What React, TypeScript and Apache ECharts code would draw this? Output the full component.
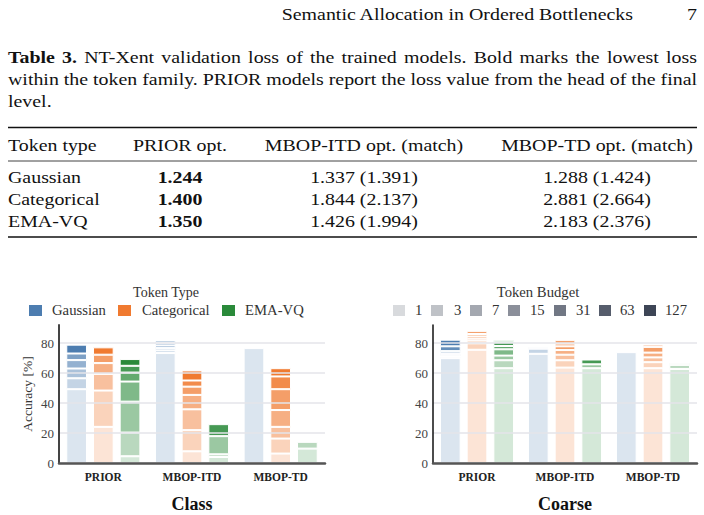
import React, { useEffect, useRef } from "react";
import * as echarts from "echarts";

// ---- data -------------------------------------------------------------
const models = ["PRIOR", "MBOP-ITD", "MBOP-TD"];
const tokenTypes = ["Gaussian", "Categorical", "EMA-VQ"];
const tokenBudgets = ["1", "3", "7", "15", "31", "63", "127"];

// Cumulative accuracy [%] reached with 1, 3, 7, 15, 31, 63, 127 tokens.
// One row per model (PRIOR, MBOP-ITD, MBOP-TD).
const classGaussian = [
  [49.2, 56.5, 63.0, 68.6, 73.0, 73.0, 78.9],
  [73.3, 75.1, 76.6, 78.4, 80.0, 81.6, 81.6],
  [76.6, 76.6, 76.6, 76.6, 76.6, 76.6, 76.6],
];
const classCategorical = [
  [24.1, 48.3, 59.4, 66.6, 72.2, 72.2, 77.1],
  [7.8, 21.9, 35.8, 45.4, 50.9, 55.0, 61.7],
  [6.3, 16.3, 24.1, 35.3, 49.2, 57.7, 63.2],
];
const classEmaVq = [
  [4.5, 20.3, 40.9, 54.3, 60.3, 64.8, 69.3],
  [4.0, 5.8, 17.9, 17.9, 17.9, 25.9, 25.9],
  [9.6, 14.1, 14.1, 14.1, 14.1, 14.1, 14.1],
];
const coarseGaussian = [
  [69.9, 71.0, 72.1, 73.1, 74.6, 77.8, 82.2],
  [72.8, 76.2, 77.1, 77.1, 77.1, 77.1, 77.1],
  [73.9, 73.9, 73.9, 73.9, 73.9, 73.9, 73.9],
];
const coarseCategorical = [
  [75.5, 79.8, 81.6, 82.9, 84.4, 86.0, 87.8],
  [63.6, 68.5, 72.2, 75.3, 77.8, 79.6, 81.8],
  [63.2, 67.2, 70.4, 73.6, 77.4, 78.9, 78.9],
];
const coarseEmaVq = [
  [63.2, 68.5, 71.6, 75.8, 78.0, 80.5, 81.8],
  [63.2, 63.2, 65.8, 65.8, 65.8, 69.0, 69.0],
  [62.7, 65.4, 66.6, 66.6, 66.6, 66.6, 66.6],
];

const tableHeader = ["Token type", "PRIOR opt.", "MBOP-ITD opt. (match)", "MBOP-TD opt. (match)"];
const priorLoss = ["1.244", "1.400", "1.350"];
const itdLoss = ["1.337 (1.391)", "1.844 (2.137)", "1.426 (1.994)"];
const tdLoss = ["1.288 (1.424)", "2.881 (2.664)", "2.183 (2.376)"];

// ---- styling helpers --------------------------------------------------
const SERIF = "'Liberation Serif', 'DejaVu Serif', serif";
const familyColors = ["#4d7db0", "#f07a30", "#2a8a3a"];
const budgetBase = "#3d4556";
const levelAlpha = [0.2, 0.33, 0.47, 0.6, 0.73, 0.87, 1.0];
// body text of the page is set a little wider than the font's natural width
const PAGE_SIZE = 17;
const PAGE_SX = 1.17;

function tint(hex: string, a: number): string {
  const n = parseInt(hex.slice(1), 16);
  const ch = [(n >> 16) & 255, (n >> 8) & 255, n & 255].map((c) =>
    Math.round(255 - (255 - c) * a)
  );
  return "rgb(" + ch.join(",") + ")";
}

let measureCtx: CanvasRenderingContext2D | null = null;
function measure(text: string, font: string): number {
  if (!measureCtx) measureCtx = document.createElement("canvas").getContext("2d");
  measureCtx!.font = font;
  return measureCtx!.measureText(text).width;
}

type Word = { t: string; bold?: boolean };

function txt(text: string, x: number, y: number, size: number, opts: any = {}) {
  const font = (opts.bold ? "bold " : "") + size + "px " + SERIF;
  const align = opts.align || "left";
  return {
    type: "text",
    silent: true,
    x,
    y,
    scaleX: opts.sx || 1,
    style: {
      text,
      x: 0,
      y: 0,
      font,
      fill: opts.fill || "#111",
      align,
      verticalAlign: "middle",
      textAlign: align,
      textVerticalAlign: "middle",
    },
  };
}

// Lays out one line of words between x0 and x1, stretching the gaps when justified.
function justifiedLine(words: Word[], x0: number, x1: number, y: number, justify: boolean) {
  const fonts = words.map((w) => (w.bold ? "bold " : "") + PAGE_SIZE + "px " + SERIF);
  const widths = words.map((w, i) => measure(w.t, fonts[i]) * PAGE_SX);
  const total = widths.reduce((a, b) => a + b, 0);
  const space =
    justify && words.length > 1 ? (x1 - x0 - total) / (words.length - 1) : PAGE_SIZE * 0.3;
  let x = x0;
  return words.map((w, i) => {
    const el = txt(w.t, x, y, PAGE_SIZE, { bold: w.bold, sx: PAGE_SX });
    x += widths[i] + space;
    return el;
  });
}

function words(s: string, bold = false): Word[] {
  return s.split(" ").map((t) => ({ t, bold }));
}

function rule(y: number, w: number) {
  return {
    type: "line",
    silent: true,
    shape: { x1: 8, y1: y, x2: 697, y2: y },
    style: { stroke: "#111", lineWidth: w },
  };
}

function stackSeries(chart: number, families: number[][][]) {
  const out: any[] = [];
  families.forEach((fam, f) => {
    tokenBudgets.forEach((b, l) => {
      out.push({
        type: "bar",
        name: tokenTypes[f] + " " + b,
        xAxisIndex: chart,
        yAxisIndex: chart,
        stack: "c" + chart + "-" + f,
        barWidth: 20.7,
        barGap: "29%",
        silent: true,
        itemStyle: {
          color: tint(familyColors[f], levelAlpha[l]),
          borderColor: "#ffffff",
          borderWidth: 1,
        },
        data: models.map((_, m) => {
          const prev = l > 0 ? fam[m][l - 1] : 0;
          const d = Math.round((fam[m][l] - prev) * 100) / 100;
          return d > 0 ? d : null;
        }),
      });
    });
  });
  return out;
}

function xAxisFor(chart: number, title: string) {
  return {
    type: "category",
    gridIndex: chart,
    data: models,
    z: 5,
    axisLine: { show: true, lineStyle: { color: "#555", width: 2.5 } },
    axisTick: { show: false },
    axisLabel: { fontFamily: SERIF, fontWeight: "bold", fontSize: 11.5, color: "#222", margin: 8 },
    name: title,
    nameLocation: "middle",
    nameGap: 32,
    nameTextStyle: { fontFamily: SERIF, fontWeight: "bold", fontSize: 18, color: "#111" },
  };
}

function yAxisFor(chart: number, spine: string, withName: boolean) {
  return {
    type: "value",
    gridIndex: chart,
    min: 0,
    max: 92,
    interval: 20,
    z: 5,
    axisLine: { show: true, lineStyle: { color: spine, width: chart === 0 ? 2 : 1.5 } },
    axisTick: { show: false },
    axisLabel: {
      fontFamily: SERIF,
      fontSize: 13,
      color: "#444",
      margin: 5,
      formatter: (v: number) => (v % 20 === 0 ? String(v) : ""),
    },
    splitLine: { show: true, showMaxLine: false, lineStyle: { color: "#e4e4ea", width: 1.5 } },
    name: withName ? "Accuracy [%]" : "",
    nameLocation: "middle",
    nameGap: 25,
    nameTextStyle: { fontFamily: SERIF, fontSize: 13.5, color: "#333" },
  };
}

function buildGraphics() {
  const g: any[] = [];
  const page = { sx: PAGE_SX };
  // running head
  g.push(txt("Semantic Allocation in Ordered Bottlenecks", 633, 14, PAGE_SIZE, { ...page, align: "right" }));
  g.push(txt("7", 697, 14, PAGE_SIZE, { ...page, align: "right" }));
  // caption
  g.push(
    ...justifiedLine(
      [...words("Table 3.", true), ...words("NT-Xent validation loss of the trained models. Bold marks the lowest loss")],
      8, 697, 57, true
    )
  );
  g.push(
    ...justifiedLine(
      words("within the token family. PRIOR models report the loss value from the head of the final"),
      8, 697, 79, true
    )
  );
  g.push(...justifiedLine(words("level."), 8, 697, 101, false));
  // table
  g.push(rule(127.5, 1.4), rule(161, 0.8), rule(237, 1.4));
  const colX = [8, 180, 364, 597];
  g.push(txt(tableHeader[0], colX[0], 145, PAGE_SIZE, page));
  g.push(txt(tableHeader[1], colX[1], 145, PAGE_SIZE, { ...page, align: "center" }));
  g.push(txt(tableHeader[2], colX[2], 145, PAGE_SIZE, { ...page, align: "center" }));
  g.push(txt(tableHeader[3], colX[3], 145, PAGE_SIZE, { ...page, align: "center" }));
  tokenTypes.forEach((t, i) => {
    const y = 177 + i * 22;
    g.push(txt(t, colX[0], y, PAGE_SIZE, page));
    g.push(txt(priorLoss[i], colX[1], y, PAGE_SIZE, { ...page, align: "center", bold: true }));
    g.push(txt(itdLoss[i], colX[2], y, PAGE_SIZE, { ...page, align: "center" }));
    g.push(txt(tdLoss[i], colX[3], y, PAGE_SIZE, { ...page, align: "center" }));
  });
  // legend: token type
  g.push(txt("Token Type", 166, 292, 14, { align: "center", fill: "#333" }));
  const typeRect = [29, 118, 222];
  const typeText = [52, 142, 245];
  tokenTypes.forEach((t, i) => {
    g.push({
      type: "rect",
      silent: true,
      shape: { x: typeRect[i], y: 305, width: 13, height: 11 },
      style: { fill: familyColors[i] },
    });
    g.push(txt(t, typeText[i], 310.5, 14, { fill: "#333", sx: 1.05 }));
  });
  // legend: token budget
  g.push(txt("Token Budget", 538, 292, 14, { align: "center", fill: "#333", sx: 1.05 }));
  const budRect = [393, 431, 470, 508, 554, 599, 644];
  const budText = [415, 454, 492, 530, 576, 620, 665];
  tokenBudgets.forEach((b, i) => {
    g.push({
      type: "rect",
      silent: true,
      shape: { x: budRect[i], y: 305, width: 12, height: 11 },
      style: { fill: tint(budgetBase, levelAlpha[i]) },
    });
    g.push(txt(b, budText[i], 310.5, 14, { fill: "#333", sx: 1.05 }));
  });
  return g;
}

export default function App() {
  const ref = useRef<HTMLDivElement>(null);
  useEffect(() => {
    if (!ref.current) return;
    const chart = echarts.init(ref.current, undefined, { renderer: "svg" });
    chart.setOption({
      animation: false,
      backgroundColor: "#ffffff",
      textStyle: { fontFamily: SERIF },
      grid: [
        { left: 59, top: 325, width: 266, height: 138, containLabel: false },
        { left: 433, top: 325, width: 264, height: 138, containLabel: false },
      ],
      xAxis: [xAxisFor(0, "Class"), xAxisFor(1, "Coarse")],
      yAxis: [yAxisFor(0, "#444", true), yAxisFor(1, "#111", false)],
      series: [
        ...stackSeries(0, [classGaussian, classCategorical, classEmaVq]),
        ...stackSeries(1, [coarseGaussian, coarseCategorical, coarseEmaVq]),
      ],
      graphic: buildGraphics(),
    });
    return () => chart.dispose();
  }, []);
  return (
    <div
      ref={ref}
      style={{ position: "fixed", left: 0, top: 0, width: 704, height: 515, background: "#fff" }}
    />
  );
}
